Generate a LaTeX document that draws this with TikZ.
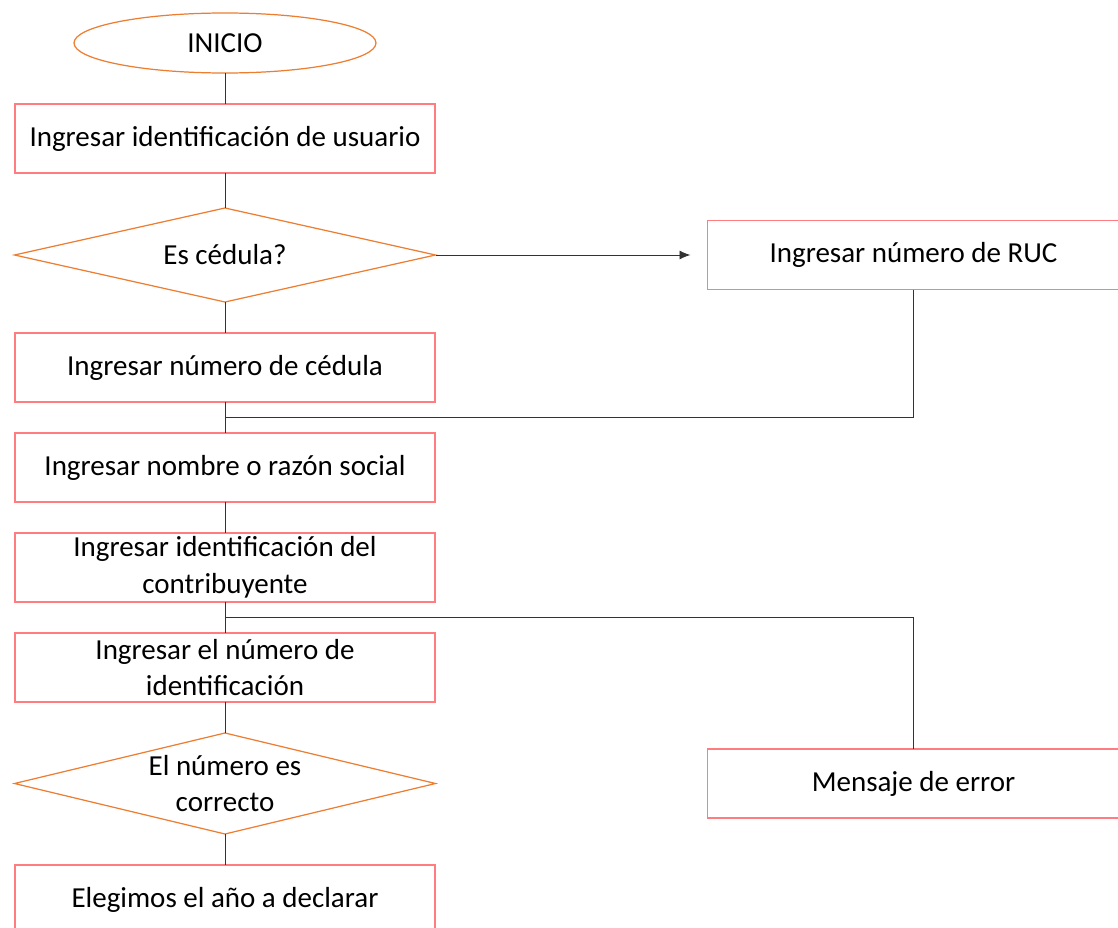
\documentclass[tikz,border=0pt]{standalone}
\usepackage{fontspec}
\setmainfont{Carlito}
\usepackage{tikz}
\usetikzlibrary{arrows.meta,calc,positioning,shapes.geometric}
\definecolor{rojoclaro}{HTML}{FF7C80}
\definecolor{naranja}{HTML}{ED7D31}

\begin{document}
\begin{tikzpicture}[
    >={Latex[length=2.2mm,width=1.8mm]},
    font=\fontsize{16.5}{21}\selectfont,
    node distance=0.62cm,
    caja/.style={
        draw=rojoclaro,
        line width=0.9pt,
        minimum width=8.4cm,
        minimum height=1.38cm,
        align=center,
        inner sep=2pt,
        outer sep=0pt
    },
    decision/.style={
        diamond,
        draw=naranja,
        line width=0.7pt,
        aspect=4.5,
        minimum width=8.42cm,
        minimum height=1.88cm,
        align=center,
        inner sep=0pt,
        outer sep=0pt
    },
    inicio/.style={
        ellipse,
        draw=naranja,
        line width=0.7pt,
        minimum width=6.04cm,
        minimum height=1.2cm,
        outer sep=0pt
    },
    linea/.style={draw=black!80, line width=0.55pt}
]

\useasboundingbox (-4.5,0.86) rectangle (17.86,-17.7);

% Columna principal
\node[inicio] (ini) {INICIO};
\node[caja, below=of ini] (usr) {Ingresar identificación de usuario};
\node[decision, below=0.7cm of usr] (esced) {Es cédula?};
\node[caja, below=of esced] (ced) {Ingresar número de cédula};
\node[caja, below=of ced] (nom) {Ingresar nombre o razón social};
\node[caja, below=of nom] (contr) {Ingresar identificación del\\contribuyente};
\node[caja, below=of contr] (num) {Ingresar el número de\\identificación};
\node[decision, below=of num, minimum height=2.02cm] (esnum) {El número es\\correcto};
\node[caja, below=of esnum] (anio) {Elegimos el año a declarar};

% Columna derecha
\node[caja, minimum width=8.24cm, right=5.44cm of esced] (ruc) {Ingresar número de RUC};
\node[caja, minimum width=8.24cm, right=5.44cm of esnum] (err) {Mensaje de error};

% Uniones
\coordinate (j1) at ($(ced.south)!0.5!(nom.north)$);
\coordinate (j2) at ($(contr.south)!0.5!(num.north)$);

% Conectores
\draw[linea] (ini) -- (usr);
\draw[linea] (usr) -- (esced);
\draw[linea] (esced) -- (ced);
\draw[linea] (ced) -- (nom);
\draw[linea] (nom) -- (contr);
\draw[linea] (contr) -- (num);
\draw[linea] (num) -- (esnum);
\draw[linea] (esnum) -- (anio);
\draw[linea, ->, shorten >=0.34cm] (esced.east) -- (ruc.west);
\draw[linea] (ruc.south) |- (j1);
\draw[linea] (err.north) |- (j2);

\end{tikzpicture}
\end{document}
